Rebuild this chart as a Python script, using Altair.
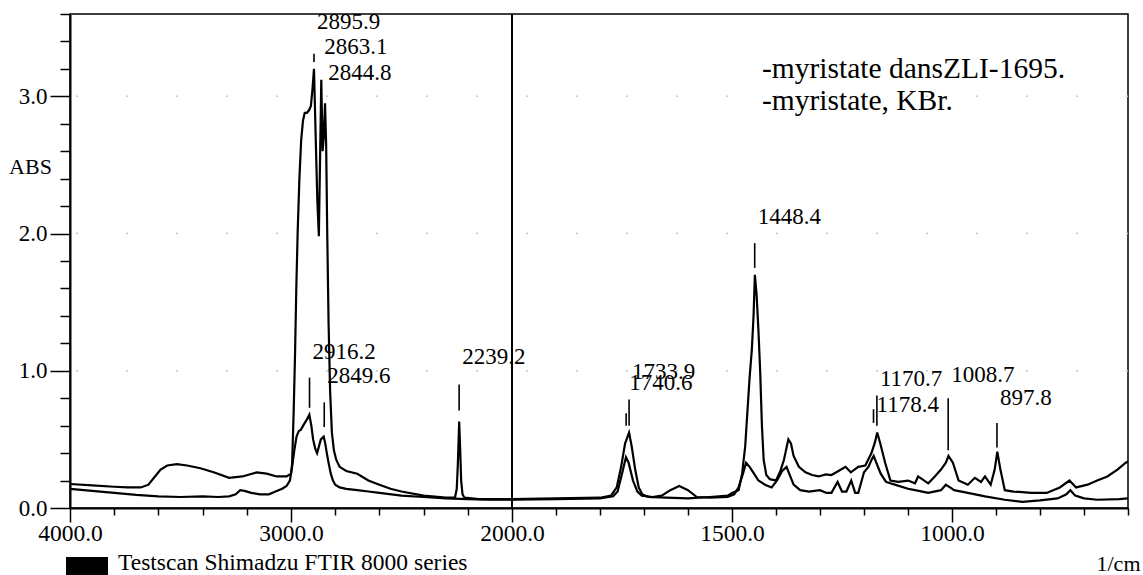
import altair as alt
import pandas as pd

# ---------------- data ----------------
# Curve A : myristate dans ZLI-1695
wn_a = [4000, 3900, 3800, 3740, 3680, 3645, 3620, 3590, 3560, 3516, 3470, 3410, 3350, 3280,
        3220, 3155, 3110, 3065, 3020, 3000, 2995, 2988, 2982, 2976, 2970, 2962, 2954, 2946,
        2938, 2928, 2918, 2910, 2903, 2896, 2889, 2881, 2874, 2868, 2863, 2857, 2852, 2846,
        2841, 2836, 2830, 2823, 2815, 2806, 2795, 2780, 2750, 2700, 2650, 2600, 2550, 2500,
        2400, 2300, 2258, 2250, 2245, 2239, 2235, 2230, 2224, 2215, 2150, 2050, 2000, 1900,
        1800, 1775, 1762, 1752, 1743, 1734, 1728, 1720, 1712, 1704, 1690, 1650, 1600, 1550,
        1510, 1500, 1492, 1485, 1477, 1470, 1465, 1460, 1455, 1451, 1448, 1444, 1440, 1436,
        1432, 1428, 1422, 1414, 1400, 1390, 1382, 1372, 1366, 1360, 1348, 1333, 1318, 1303,
        1287, 1274, 1258, 1242, 1230, 1213, 1197, 1183, 1175, 1170, 1163, 1152, 1140, 1122,
        1100, 1084, 1077, 1054, 1039, 1025, 1014, 1008, 998, 985, 964, 948, 934, 925, 912,
        903, 897, 890, 880, 860, 820, 785, 755, 733, 718, 692, 670, 647, 624, 605, 600]
abs_a = [0.175, 0.165, 0.155, 0.15, 0.15, 0.17, 0.22, 0.28, 0.31, 0.32, 0.31, 0.29, 0.26, 0.22,
         0.23, 0.26, 0.25, 0.23, 0.23, 0.25, 0.32, 0.7, 1.1, 1.6, 2.0, 2.4, 2.68, 2.82,
         2.88, 2.88, 2.9, 2.93, 3.05, 3.2, 2.75, 2.25, 1.98, 2.6, 3.12, 2.6, 2.7, 2.95,
         2.65, 2.0, 1.35, 0.85, 0.55, 0.42, 0.35, 0.3, 0.27, 0.25, 0.2, 0.17, 0.14, 0.12,
         0.09, 0.075, 0.075, 0.14, 0.32, 0.63, 0.45, 0.2, 0.1, 0.075, 0.065, 0.065, 0.065, 0.07,
         0.075, 0.09, 0.15, 0.3, 0.47, 0.55, 0.45, 0.28, 0.15, 0.1, 0.08, 0.075, 0.07, 0.08,
         0.09, 0.11, 0.12, 0.13, 0.25, 0.45, 0.7, 0.95, 1.15, 1.4, 1.70, 1.55, 1.3, 1.0,
         0.6, 0.35, 0.24, 0.21, 0.2, 0.27, 0.35, 0.5, 0.47, 0.38, 0.3, 0.26, 0.24, 0.23,
         0.245, 0.24, 0.27, 0.3, 0.26, 0.3, 0.31, 0.4, 0.48, 0.55, 0.47, 0.33, 0.2, 0.19,
         0.2, 0.18, 0.23, 0.18, 0.23, 0.28, 0.33, 0.38, 0.33, 0.2, 0.17, 0.22, 0.19, 0.23, 0.17,
         0.28, 0.41, 0.28, 0.13, 0.12, 0.11, 0.11, 0.15, 0.2, 0.15, 0.17, 0.2, 0.23, 0.28, 0.33, 0.34]

# Curve B : myristate, KBr
wn_b = [4000, 3900, 3800, 3700, 3600, 3500, 3400, 3330, 3280, 3250, 3230, 3210, 3180, 3140,
        3100, 3070, 3040, 3020, 3005, 2995, 2985, 2975, 2965, 2955, 2945, 2930, 2917, 2908,
        2900, 2890, 2882, 2875, 2865, 2852, 2845, 2838, 2830, 2820, 2810, 2800, 2780, 2750,
        2700, 2650, 2600, 2500, 2400, 2300, 2200, 2100, 2000, 1900, 1800, 1770, 1760, 1750,
        1741, 1735, 1725, 1715, 1705, 1680, 1660, 1640, 1620, 1600, 1580, 1550, 1510, 1495,
        1485, 1475, 1468, 1460, 1450, 1440, 1425, 1410, 1398, 1386, 1376, 1370, 1360, 1345,
        1325, 1300, 1285, 1274, 1260, 1250, 1240, 1229, 1220, 1213, 1200, 1190, 1183, 1178,
        1172, 1162, 1150, 1130, 1100, 1084, 1054, 1025, 1014, 995, 964, 925, 880, 840, 800,
        760, 740, 731, 720, 700, 670, 620, 600]
abs_b = [0.14, 0.125, 0.11, 0.095, 0.085, 0.08, 0.085, 0.08, 0.085, 0.1, 0.13, 0.125, 0.11, 0.1,
         0.1, 0.12, 0.14, 0.16, 0.2, 0.3, 0.42, 0.52, 0.56, 0.57, 0.6, 0.64, 0.68, 0.6,
         0.5, 0.43, 0.4, 0.44, 0.5, 0.52, 0.47, 0.4, 0.33, 0.25, 0.2, 0.17, 0.15, 0.14,
         0.13, 0.12, 0.11, 0.09, 0.08, 0.07, 0.065, 0.06, 0.06, 0.065, 0.07, 0.085, 0.12, 0.25,
         0.37, 0.33, 0.2, 0.12, 0.09, 0.08, 0.09, 0.13, 0.16, 0.13, 0.08, 0.075, 0.08, 0.1,
         0.15, 0.25, 0.33, 0.3, 0.25, 0.2, 0.17, 0.15, 0.2, 0.27, 0.3, 0.25, 0.17, 0.13,
         0.12, 0.13, 0.11, 0.11, 0.19, 0.12, 0.12, 0.2, 0.11, 0.11, 0.26, 0.3, 0.35, 0.38,
         0.33, 0.25, 0.19, 0.17, 0.14, 0.13, 0.11, 0.13, 0.17, 0.13, 0.11, 0.085, 0.06, 0.045, 0.055,
         0.07, 0.1, 0.13, 0.09, 0.07, 0.06, 0.065, 0.07]

series_names = ["-myristate dansZLI-1695.", "-myristate, KBr."]

# peak labels
peak_labels = ["2895.9", "2863.1", "2844.8", "2916.2", "2849.6", "2239.2", "1733.9",
               "1740.6", "1448.4", "1170.7", "1178.4", "1008.7", "897.8"]
peak_wn = [2895.9, 2863.1, 2844.8, 2916.2, 2849.6, 2239.2, 1733.9,
           1740.6, 1448.4, 1170.7, 1178.4, 1008.7, 897.8]
label_abs = [3.54, 3.36, 3.17, 1.14, 0.96, 1.10, 0.99, 0.91, 2.12, 0.94, 0.75, 0.97, 0.80]

# peak marker strokes
marker_wn = [2895.9, 2916.2, 2849.6, 2239.2, 1740.6, 1733.9, 1448.4, 1178.4, 1170.7, 1008.7, 897.8]
marker_lo = [3.25, 0.73, 0.59, 0.71, 0.60, 0.60, 1.75, 0.62, 0.60, 0.42, 0.44]
marker_hi = [3.31, 0.95, 0.77, 0.90, 0.69, 0.79, 1.93, 0.72, 0.82, 0.80, 0.62]

# legend text position (wavenumber, absorbance)
legend_wn = [1432, 1432]
legend_abs = [3.20, 2.965]

# axes
x_major = [4000, 3000, 2000, 1500, 1000]
x_ticks = [4000, 3800, 3600, 3400, 3200, 3000, 2800, 2600, 2400, 2200, 2000,
           1900, 1800, 1700, 1600, 1500, 1400, 1300, 1200, 1100, 1000, 900, 800, 700, 600]
y_ticks = [round(i * 0.2, 1) for i in range(19)]
grid_abs = [1.0, 2.0, 3.0]
break_wn = [2000]
footer_text = ["Testscan Shimadzu FTIR 8000 series"]

# ---------------- chart ----------------
FONT = "'Liberation Serif', 'Times New Roman', Tinos, 'DejaVu Serif', serif"
W, H = 1058, 494

df_lines = pd.concat([
    pd.DataFrame({"wn": wn_a, "abs": abs_a, "series": series_names[0]}),
    pd.DataFrame({"wn": wn_b, "abs": abs_b, "series": series_names[1]}),
])
df_labels = pd.DataFrame({"wn": peak_wn, "abs": label_abs, "label": peak_labels})
df_markers = pd.DataFrame({"wn": marker_wn, "lo": marker_lo, "hi": marker_hi})
df_legend = pd.DataFrame({"wn": legend_wn, "abs": legend_abs, "label": series_names})
df_grid = pd.DataFrame({"abs": grid_abs})
df_break = pd.DataFrame({"wn": break_wn})
df_footer = pd.DataFrame({"label": footer_text})

major_test = "indexof(" + str(x_major) + ", datum.value) >= 0"

x_scale = alt.Scale(domain=[4000, 2000, 600], range=[0, 442, W], nice=False, zero=False)
y_scale = alt.Scale(domain=[0, 3.6], nice=False, zero=False)

x_axis = alt.Axis(
    values=x_ticks,
    labelExpr=major_test + " ? format(datum.value, '.1f') : ''",
    labelFont=FONT, labelFontSize=23.5, labelColor="black",
    labelFlush=False, labelOverlap=False, labelPadding=-1,
    tickColor="black", tickWidth=1.5,
    tickSize={"condition": {"test": major_test, "value": 14}, "value": 7},
    domainColor="black", domainWidth=2, grid=False,
    title="1/cm", titleFont=FONT, titleFontSize=22, titleFontWeight="normal",
    titleColor="black", titleX=1070, titleY=55, titleAlign="right", titleBaseline="middle",
)
y_axis = alt.Axis(
    values=y_ticks,
    labelExpr="datum.value % 1 === 0 ? format(datum.value, '.1f') : ''",
    labelFont=FONT, labelFontSize=23, labelColor="black",
    labelFlush=False, labelOverlap=False, labelPadding=3,
    tickColor="black", tickWidth=1.5,
    tickSize={"condition": {"test": "datum.value % 1 === 0", "value": 20}, "value": 10},
    domainColor="black", domainWidth=2, grid=False,
    title="ABS", titleFont=FONT, titleFontSize=22, titleFontWeight="normal",
    titleColor="black", titleAngle=0, titleX=-40, titleY=152,
    titleAlign="center", titleBaseline="middle",
)

X = alt.X("wn:Q", scale=x_scale, axis=x_axis)
Y = alt.Y("abs:Q", scale=y_scale, axis=y_axis)

grid = alt.Chart(df_grid).mark_rule(color="#c8c8c8", strokeWidth=1.5, strokeDash=[2, 48]).encode(y=Y)

brk = alt.Chart(df_break).mark_rule(color="black", strokeWidth=2).encode(x=X)

lines = alt.Chart(df_lines).mark_line(color="black", strokeWidth=2.2, clip=True).encode(
    x=X, y=Y, detail="series:N", order="wn:Q")

markers = alt.Chart(df_markers).mark_rule(color="black", strokeWidth=1.6).encode(
    x=X, y=alt.Y("lo:Q", scale=y_scale, axis=y_axis), y2="hi:Q")

labels = alt.Chart(df_labels).mark_text(
    align="left", baseline="middle", dx=3, font=FONT, fontSize=23, color="black").encode(
    x=X, y=Y, text="label:N")

legend = alt.Chart(df_legend).mark_text(
    align="left", baseline="middle", font=FONT, fontSize=29.5, color="black").encode(
    x=X, y=Y, text="label:N")

footer_box = alt.Chart(df_footer).mark_rect(color="black").encode(
    x=alt.value(-4), x2=alt.value(38), y=alt.value(H + 49), y2=alt.value(H + 67))

footer = alt.Chart(df_footer).mark_text(
    align="left", baseline="middle", font=FONT, fontSize=23.5, color="black").encode(
    x=alt.value(48), y=alt.value(H + 55), text="label:N")

chart = alt.layer(grid, brk, lines, markers, labels, legend, footer_box, footer).properties(
    width=W, height=H,
    autosize=alt.AutoSizeParams(type="none"),
    padding={"left": 70, "top": 14, "right": 15, "bottom": 67},
    background="white",
).configure_view(stroke="black", strokeWidth=1.5)

chart.save("out.html", embed_options={"renderer": "svg", "actions": False})
